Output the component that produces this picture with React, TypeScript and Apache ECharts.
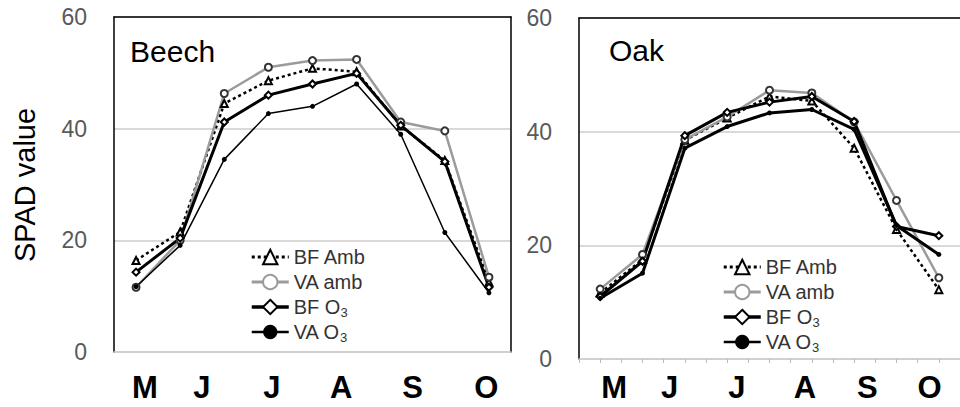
import React, { useEffect, useRef } from 'react';
import * as echarts from 'echarts';

// ---- data ----
const samplePos = [0, 1, 2, 3, 4, 5, 6, 7, 8];
const monthLabels = ['M', 'J', 'J', 'A', 'S', 'O'];
const beechMonthPos = [0.2, 1.49, 3.08, 4.65, 6.27, 7.94];
const oakMonthPos = [0.33, 1.64, 3.23, 4.84, 6.31, 7.78];
const seriesNames = ['BF Amb', 'VA amb', 'BF O3', 'VA O3'];
const panelTitles = ['Beech', 'Oak'];
const yAxisTitle = 'SPAD value';

const beechBFAmb = [16.4, 21.5, 44.5, 48.6, 50.8, 50.2, 40.5, 34.3, 12.5];
const beechVAAmb = [11.6, 20.0, 46.3, 51.0, 52.2, 52.4, 41.2, 39.6, 13.4];
const beechBFO3 = [14.3, 20.4, 41.2, 46.0, 48.0, 49.9, 40.6, 34.1, 11.6];
const beechVAO3 = [11.7, 19.1, 34.5, 42.7, 44.0, 48.0, 39.0, 21.4, 10.6];

const oakBFAmb = [11.6, 17.5, 38.5, 42.4, 46.2, 45.4, 37.1, 22.8, 12.2];
const oakVAAmb = [12.3, 18.4, 38.6, 42.6, 47.3, 46.8, 41.7, 27.9, 14.3];
const oakBFO3 = [11.0, 17.2, 39.3, 43.4, 45.2, 46.2, 41.8, 23.3, 21.7];
const oakVAO3 = [10.7, 15.1, 37.1, 40.9, 43.3, 43.9, 40.4, 23.5, 18.4];

const FONT = '"Liberation Sans", Arial, Helvetica, sans-serif';
const GRID_GRAY = '#cdcdcd';
const LINE_GRAY = '#9b9b9b';

function monthFormatter(positions: number[]) {
  return (v: number) => {
    for (let i = 0; i < positions.length; i++) {
      if (Math.abs(positions[i] - v) < 1e-6) return monthLabels[i];
    }
    return '';
  };
}

function toPairs(values: number[]) {
  return samplePos.map((x, i) => [x, values[i]]);
}

function seriesStyle(idx: number, thinVA: boolean) {
  switch (idx) {
    case 0:
      return {
        symbol: 'emptyTriangle', symbolSize: 7,
        lineStyle: { color: '#000', width: 2.5, type: [3, 3] },
        itemStyle: { color: '#000', borderWidth: 1.2 },
      };
    case 1:
      return {
        symbol: 'emptyCircle', symbolSize: 7,
        lineStyle: { color: LINE_GRAY, width: 2.5 },
        itemStyle: { color: '#333', borderWidth: 1.2 },
      };
    case 2:
      return {
        symbol: 'emptyDiamond', symbolSize: 7,
        lineStyle: { color: '#000', width: 3 },
        itemStyle: { color: '#000', borderWidth: 1.2 },
      };
    default:
      return {
        symbol: 'circle', symbolSize: 5,
        lineStyle: { color: '#000', width: thinVA ? 1.5 : 3 },
        itemStyle: { color: '#000' },
      };
  }
}

const legendData = [
  { name: seriesNames[0], itemStyle: { color: '#000' }, lineStyle: { color: '#000', width: 3, type: [3, 3] } },
  { name: seriesNames[1], itemStyle: { color: LINE_GRAY }, lineStyle: { color: LINE_GRAY, width: 3 } },
  { name: seriesNames[2], itemStyle: { color: '#000' }, lineStyle: { color: '#000', width: 3.5 } },
  { name: seriesNames[3], itemStyle: { color: '#000' }, lineStyle: { color: '#000', width: 2.5 } },
];

function makeLegend(left: number, top: number) {
  return {
    orient: 'vertical',
    left, top,
    padding: 0,
    itemWidth: 37,
    itemHeight: 18,
    itemGap: 1,
    selectedMode: false,
    data: legendData,
    formatter: (name: string) => (name.endsWith('O3') ? name.slice(0, -1) + '{sub|3}' : name),
    textStyle: {
      fontFamily: FONT, fontSize: 20, color: '#333', lineHeight: 24,
      rich: { sub: { fontFamily: FONT, fontSize: 13, lineHeight: 13, color: '#333', verticalAlign: 'bottom' } },
    },
  };
}

function yAxisLeft(gridIndex: number) {
  return {
    type: 'value', gridIndex, min: 0, max: 60, interval: 20, position: 'left',
    axisLine: { show: true, onZero: false, lineStyle: { color: '#000', width: 1.5 } },
    axisTick: { show: false },
    axisLabel: { fontFamily: FONT, fontSize: 23, color: '#595959', margin: 27 },
    splitLine: { show: true, lineStyle: { color: GRID_GRAY, width: 1.5 } },
  };
}

function xAxisBottom(gridIndex: number, positions: number[], ticks: boolean, margin: number) {
  const tickVals: number[] = [];
  for (let k = -1; k <= 17; k++) tickVals.push(k * 0.5);
  return {
    type: 'value', gridIndex, min: -0.5, max: 8.5, position: 'bottom',
    axisLine: { show: true, onZero: false, lineStyle: { color: GRID_GRAY, width: 1.5 } },
    axisTick: ticks
      ? { show: true, customValues: tickVals, length: 4, inside: false, lineStyle: { color: '#bbb', width: 1 } }
      : { show: false },
    axisLabel: {
      customValues: positions,
      formatter: monthFormatter(positions),
      fontFamily: FONT, fontSize: 31, fontWeight: 'bold', color: '#000', margin,
    },
    splitLine: { show: false },
  };
}

function xAxisTop(gridIndex: number) {
  return {
    type: 'value', gridIndex, min: -0.5, max: 8.5, position: 'top',
    axisLine: { show: true, onZero: false, lineStyle: { color: '#000', width: 1.5 } },
    axisTick: { show: false }, axisLabel: { show: false }, splitLine: { show: false },
  };
}

export default function App() {
  const ref = useRef<HTMLDivElement>(null);
  useEffect(() => {
    if (!ref.current) return;
    const chart = echarts.init(ref.current, undefined, { renderer: 'svg' });
    const beechSets = [beechBFAmb, beechVAAmb, beechBFO3, beechVAO3];
    const oakSets = [oakBFAmb, oakVAAmb, oakBFO3, oakVAO3];
    const series: any[] = [];
    beechSets.forEach((vals, i) => {
      series.push({ type: 'line', name: seriesNames[i], xAxisIndex: 0, yAxisIndex: 0, data: toPairs(vals), ...seriesStyle(i, true) });
    });
    oakSets.forEach((vals, i) => {
      series.push({ type: 'line', name: seriesNames[i], xAxisIndex: 2, yAxisIndex: 2, data: toPairs(vals), ...seriesStyle(i, false) });
    });
    chart.setOption({
      animation: false,
      backgroundColor: '#fff',
      grid: [
        { left: 114, top: 17, width: 397, height: 335 },
        { left: 579, top: 18, width: 392, height: 341 },
      ],
      title: [
        { text: panelTitles[0], left: 130, top: 36, padding: 0, textStyle: { fontFamily: FONT, fontSize: 30, fontWeight: 'normal', color: '#000' } },
        { text: panelTitles[1], left: 609, top: 35, padding: 0, textStyle: { fontFamily: FONT, fontSize: 30, fontWeight: 'normal', color: '#000' } },
      ],
      legend: [makeLegend(250, 245), makeLegend(722, 255)],
      xAxis: [
        xAxisBottom(0, beechMonthPos, false, 20),
        xAxisTop(0),
        xAxisBottom(1, oakMonthPos, true, 13),
        xAxisTop(1),
      ],
      yAxis: [
        yAxisLeft(0),
        {
          type: 'value', gridIndex: 0, min: 0, max: 60, interval: 20, position: 'right',
          axisLine: { show: true, onZero: false, lineStyle: { color: '#000', width: 1.5 } },
          axisTick: { show: false }, axisLabel: { show: false }, splitLine: { show: false },
        },
        yAxisLeft(1),
      ],
      graphic: [
        {
          type: 'text', x: 25, y: 185, rotation: Math.PI / 2,
          style: { text: yAxisTitle, fontFamily: FONT, fontSize: 29, fill: '#000', textAlign: 'center', textVerticalAlign: 'middle' },
        },
      ],
      series,
    });
    return () => chart.dispose();
  }, []);
  return <div ref={ref} style={{ position: 'absolute', left: 0, top: 0, width: 960, height: 407 }} />;
}
